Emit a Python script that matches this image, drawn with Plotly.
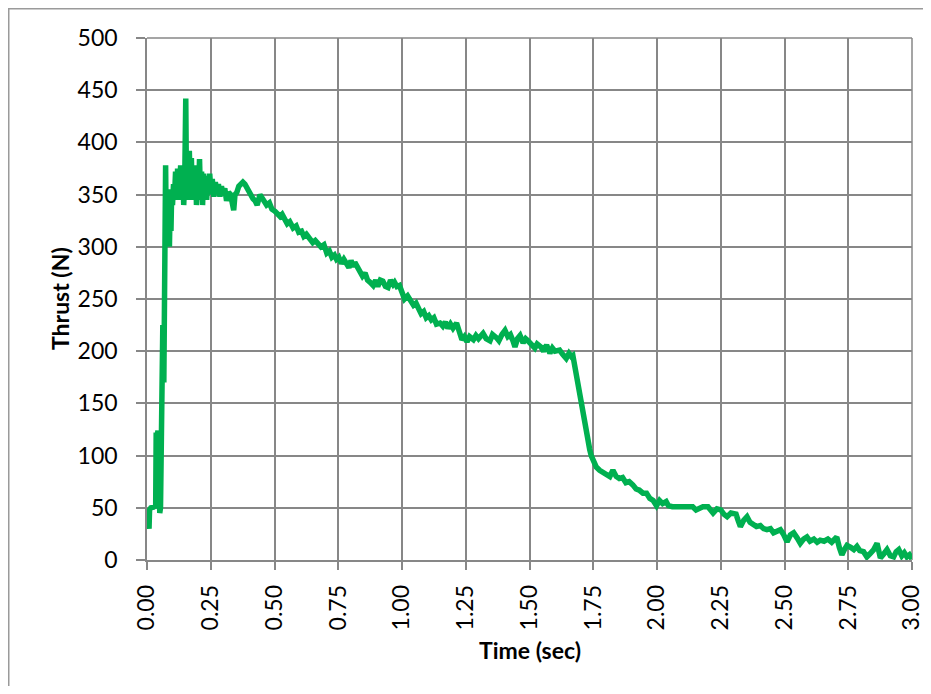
import plotly.graph_objects as go

# Time (sec) and thrust (N)
time_s = [
    0.000, 0.004, 0.008, 0.010, 0.015, 0.030, 0.034, 0.036, 0.040, 0.043,
    0.046, 0.050, 0.053, 0.058, 0.062, 0.066, 0.070, 0.073, 0.076, 0.079,
    0.082, 0.085, 0.088, 0.091, 0.094, 0.097, 0.100, 0.104, 0.108, 0.112,
    0.116, 0.120, 0.124, 0.128, 0.132, 0.136, 0.140, 0.144, 0.148, 0.152,
    0.155, 0.158, 0.162, 0.166, 0.170, 0.174, 0.178, 0.182, 0.186, 0.190,
    0.194, 0.198, 0.202, 0.206, 0.210, 0.214, 0.218, 0.222, 0.226, 0.230,
    0.234, 0.238, 0.242, 0.246, 0.250, 0.256, 0.262, 0.268, 0.274, 0.280,
    0.286, 0.292, 0.298, 0.305, 0.312, 0.320, 0.328, 0.335, 0.340, 0.345,
    0.352, 0.360, 0.368, 0.376, 0.384, 0.392, 0.400, 0.408, 0.416, 0.424,
    0.432, 0.443, 0.455, 0.469, 0.480, 0.490, 0.502, 0.512, 0.522, 0.530,
    0.541, 0.550, 0.560, 0.573, 0.585, 0.595, 0.606, 0.615, 0.625, 0.639,
    0.650, 0.660, 0.671, 0.682, 0.694, 0.705, 0.715, 0.725, 0.735, 0.743,
    0.752, 0.762, 0.772, 0.782, 0.792, 0.800, 0.808, 0.815, 0.825, 0.835,
    0.845, 0.855, 0.865, 0.875, 0.887, 0.897, 0.905, 0.915, 0.925, 0.935,
    0.945, 0.955, 0.965, 0.971, 0.980, 0.990, 1.000, 1.010, 1.022, 1.035,
    1.045, 1.055, 1.065, 1.075, 1.085, 1.095, 1.105, 1.115, 1.125, 1.135,
    1.149, 1.160, 1.170, 1.180, 1.190, 1.200, 1.214, 1.225, 1.235, 1.245,
    1.255, 1.265, 1.280, 1.290, 1.300, 1.318, 1.330, 1.345, 1.355, 1.370,
    1.380, 1.392, 1.404, 1.415, 1.425, 1.435, 1.443, 1.453, 1.463, 1.475,
    1.485, 1.494, 1.505, 1.521, 1.530, 1.545, 1.555, 1.567, 1.580, 1.590,
    1.600, 1.618, 1.630, 1.644, 1.655, 1.664, 1.670, 1.677, 1.684, 1.690,
    1.697, 1.703, 1.710, 1.716, 1.722, 1.729, 1.736, 1.742, 1.750, 1.762,
    1.775, 1.788, 1.801, 1.815, 1.827, 1.840, 1.852, 1.865, 1.878, 1.891,
    1.905, 1.918, 1.930, 1.945, 1.959, 1.972, 1.985, 1.998, 2.010, 2.022,
    2.036, 2.045, 2.060, 2.080, 2.100, 2.120, 2.140, 2.153, 2.165, 2.180,
    2.200, 2.210, 2.220, 2.235, 2.250, 2.262, 2.275, 2.290, 2.310, 2.318,
    2.327, 2.340, 2.353, 2.365, 2.379, 2.390, 2.405, 2.418, 2.431, 2.445,
    2.457, 2.470, 2.484, 2.495, 2.510, 2.523, 2.536, 2.550, 2.562, 2.575,
    2.588, 2.600, 2.615, 2.628, 2.640, 2.655, 2.670, 2.685, 2.695, 2.705,
    2.715, 2.725, 2.735, 2.745, 2.760, 2.772, 2.784, 2.795, 2.810, 2.823,
    2.835, 2.850, 2.863, 2.876, 2.890, 2.902, 2.915, 2.928, 2.938, 2.948,
    2.960, 2.970, 2.980, 2.990, 3.000,
]

thrust_n = [
    48, 30, 30, 48, 50, 51, 50, 122, 118, 124,
    60, 45, 50, 165, 225, 170, 290, 378, 300, 355,
    330, 350, 300, 345, 315, 355, 340, 360, 348, 372,
    345, 375, 350, 360, 378, 345, 372, 340, 365, 442,
    350, 380, 345, 392, 352, 385, 345, 370, 355, 378,
    340, 365, 350, 384, 345, 372, 340, 370, 352, 368,
    345, 365, 350, 370, 355, 365, 348, 362, 352, 360,
    348, 358, 350, 356, 344, 352, 350, 340, 335, 350,
    352, 358, 360, 362, 360, 356, 354, 348, 346, 344,
    340, 350, 346, 340, 342, 336, 334, 331, 329, 331,
    326, 322, 324, 318, 320, 314, 315, 310, 312, 308,
    304, 306, 303, 300, 302, 294, 296, 290, 292, 288,
    290, 284, 288, 285, 280, 287, 281, 285, 280, 277,
    272, 275, 268, 266, 263, 268, 262, 268, 267, 262,
    261, 268, 264, 266, 262, 263, 258, 250, 253, 248,
    244, 246, 240, 236, 238, 232, 234, 230, 232, 226,
    227, 224, 228, 222, 226, 222, 227, 218, 211, 214,
    209, 214, 211, 215, 212, 217, 212, 210, 216, 213,
    210, 216, 220, 214, 216, 210, 204, 212, 215, 208,
    212, 210, 207, 203, 207, 204, 200, 206, 198, 203,
    200, 201, 197, 193, 198, 195, 196, 186, 176, 166,
    158, 150, 140, 128, 120, 112, 106, 100, 95, 89,
    86, 84, 83, 80, 86, 80, 78, 79, 74, 75,
    72, 68, 67, 64, 64, 59, 57, 52, 57, 54,
    56, 52, 51, 51, 51, 51, 51, 48, 50, 51,
    51, 48, 45, 49, 48, 44, 41.5, 45, 44, 38,
    32, 38, 41.5, 36, 34, 32, 33, 30, 29, 30,
    26, 28, 29, 25, 17.5, 24, 26, 21, 16, 20,
    22, 18, 20, 17, 19, 18, 20, 17, 19, 22,
    12, 5, 10, 14, 12, 10, 13, 9, 8, 3,
    6, 10, 16, 2, 6, 10, 4, 3, 8, 10,
    4, 7, 3, 5, 1,
]

x_tick_vals = [0.0, 0.25, 0.5, 0.75, 1.0, 1.25, 1.5, 1.75, 2.0, 2.25, 2.5, 2.75, 3.0]
y_tick_vals = [0, 50, 100, 150, 200, 250, 300, 350, 400, 450, 500]

GRID = "#878787"
FONT = "Lato, 'Liberation Sans', sans-serif"

fig = go.Figure()
fig.add_trace(go.Scatter(
    x=time_s, y=thrust_n, mode="lines",
    line=dict(color="#00B050", width=5.5),
    showlegend=False, hoverinfo="skip",
))

# the page body adds an 8px margin on every side; keep the page within the window
W, H = 915, 678
L, R, T, B = 139, 11, 30, 126
pw, ph = W - L - R, H - T - B

def px_x(p):
    return (p - L) / pw

def px_y(p):
    return (H - B - p) / ph

fig.update_layout(
    width=W, height=H,
    margin=dict(l=L, r=R, t=T, b=B),
    paper_bgcolor="white", plot_bgcolor="white",
    font=dict(family=FONT, size=23, color="black"),
    xaxis=dict(
        range=[0, 3], tickvals=x_tick_vals, tickformat=".2f", tickangle=-90,
        showgrid=True, gridcolor=GRID, gridwidth=1.5,
        showline=True, linecolor=GRID, linewidth=1.5,
        ticks="outside", ticklen=8, tickwidth=1.5, tickcolor=GRID,
        zeroline=False, ticklabelstandoff=6, ticklabeloverflow="allow",
        automargin=False,
        tickfont=dict(family=FONT, size=23, color="black"),
    ),
    yaxis=dict(
        range=[0, 500], tickvals=y_tick_vals,
        showgrid=True, gridcolor=GRID, gridwidth=1.5,
        showline=True, linecolor=GRID, linewidth=1.5, mirror=False,
        ticks="outside", ticklen=9, tickwidth=1.5, tickcolor=GRID,
        zeroline=False, ticklabelstandoff=14, ticklabeloverflow="allow",
        automargin=False,
        tickfont=dict(family=FONT, size=23, color="black"),
    ),
    shapes=[
        dict(type="rect", xref="paper", yref="paper",
             x0=px_x(0.75), y0=px_y(0.75), x1=px_x(960), y1=px_y(720),
             line=dict(color="#9a9a9a", width=1.5), layer="below"),
        dict(type="line", xref="paper", yref="paper",
             x0=0, x1=1, y0=1, y1=1, line=dict(color=GRID, width=1.5), layer="below"),
        dict(type="line", xref="paper", yref="paper",
             x0=1, x1=1, y0=0, y1=1, line=dict(color=GRID, width=1.5), layer="below"),
    ],
    annotations=[
        dict(text="<b>Thrust (N)</b>", xref="paper", yref="paper",
             x=px_x(52), y=0.5, xanchor="center", yanchor="middle",
             textangle=-90, showarrow=False,
             font=dict(family=FONT, size=23, color="black")),
        dict(text="<b>Time (sec)</b>", xref="paper", yref="paper",
             x=0.5, y=px_y(642), xanchor="center", yanchor="middle",
             showarrow=False,
             font=dict(family=FONT, size=23, color="black")),
    ],
)

fig.write_html("out.html")
